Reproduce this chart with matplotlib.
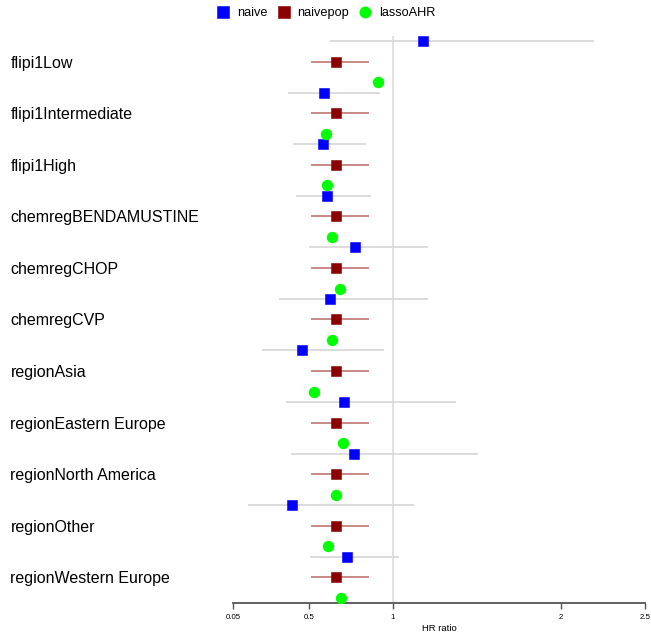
import numpy as np
import matplotlib.pyplot as plt
import matplotlib.transforms as mtransforms

plt.rcParams['font.family'] = ['Liberation Sans', 'DejaVu Sans']

# variables (top to bottom)
variables = ['flipi1Low', 'flipi1Intermediate', 'flipi1High', 'chemregBENDAMUSTINE',
             'chemregCHOP', 'chemregCVP', 'regionAsia', 'regionEastern Europe',
             'regionNorth America', 'regionOther', 'regionWestern Europe']

# naive estimates with intervals
naive_hr = [1.176, 0.590, 0.586, 0.608, 0.776, 0.626, 0.459, 0.709, 0.770, 0.402, 0.728]
naive_lo = [0.627, 0.374, 0.408, 0.425, 0.499, 0.324, 0.223, 0.366, 0.394, 0.142, 0.509]
naive_hi = [2.192, 0.925, 0.840, 0.867, 1.206, 1.210, 0.948, 1.374, 1.507, 1.125, 1.039]

# naivepop estimates (same for every variable)
naivepop_hr = [0.663] * 11
naivepop_lo = [0.513] * 11
naivepop_hi = [0.857] * 11

# lassoAHR estimates (no interval)
lasso_hr = [0.911, 0.602, 0.611, 0.641, 0.683, 0.638, 0.534, 0.703, 0.661, 0.614, 0.693]

xticks = [0.05, 0.5, 1, 2, 2.5]
xticklabels = ['0.05', '0.5', '1', '2', '2.5']

pos = np.arange(len(variables))
off = 0.4

fig = plt.figure(figsize=(6.51, 6.32), dpi=100)
ax = fig.add_axes([0.3579, 0.0459, 0.6336, 0.8972])

# reference line at HR = 1
ax.axvline(1, color='#dcdcdc', lw=1.2, zorder=0)

# interval lines
ax.hlines(pos - off, naive_lo, naive_hi, color='#d9d9d9', lw=1.3, zorder=1)
ax.hlines(pos, naivepop_lo, naivepop_hi, color='#c57f7f', lw=1.3, zorder=1)

# point estimates
ax.plot(naive_hr, pos - off, 's', color='blue', ms=7.6, mec='blue', mew=0.4, zorder=3, label='naive')
ax.plot(naivepop_hr, pos, 's', color='darkred', ms=7.6, mec='darkred', mew=0.4, zorder=3, label='naivepop')
ax.plot(lasso_hr, pos + off, 'o', color='#00ff00', ms=8.2, mew=0, zorder=3, label='lassoAHR')

ax.set_xlim(0.05, 2.5)
ax.set_ylim(len(variables) - 0.5, -0.5)

# only the bottom axis line is kept
for s in ['top', 'right', 'left']:
    ax.spines[s].set_visible(False)
ax.spines['bottom'].set_color('#555555')
ax.spines['bottom'].set_linewidth(1.3)
ax.set_yticks([])
ax.set_xticks(xticks)
ax.set_xticklabels(xticklabels)
ax.tick_params(axis='x', direction='out', length=4, width=1.0, color='#555555',
               labelsize=5.7, pad=4)
ax.set_xlabel('HR ratio', fontsize=6.8, labelpad=2)

# variable names on the left edge of the figure
trans = mtransforms.blended_transform_factory(fig.transFigure, ax.transData)
for i, name in enumerate(variables):
    ax.text(0.016, pos[i], name, transform=trans, ha='left', va='center_baseline', fontsize=11.5)

# legend across the top
fig.legend(loc='center', bbox_to_anchor=(0.501, 0.979), ncol=3, frameon=False,
           fontsize=9.2, handlelength=1.0, handletextpad=0.6, columnspacing=0.75,
           markerscale=1.05)

plt.savefig('out.png', dpi=100)
plt.close()
